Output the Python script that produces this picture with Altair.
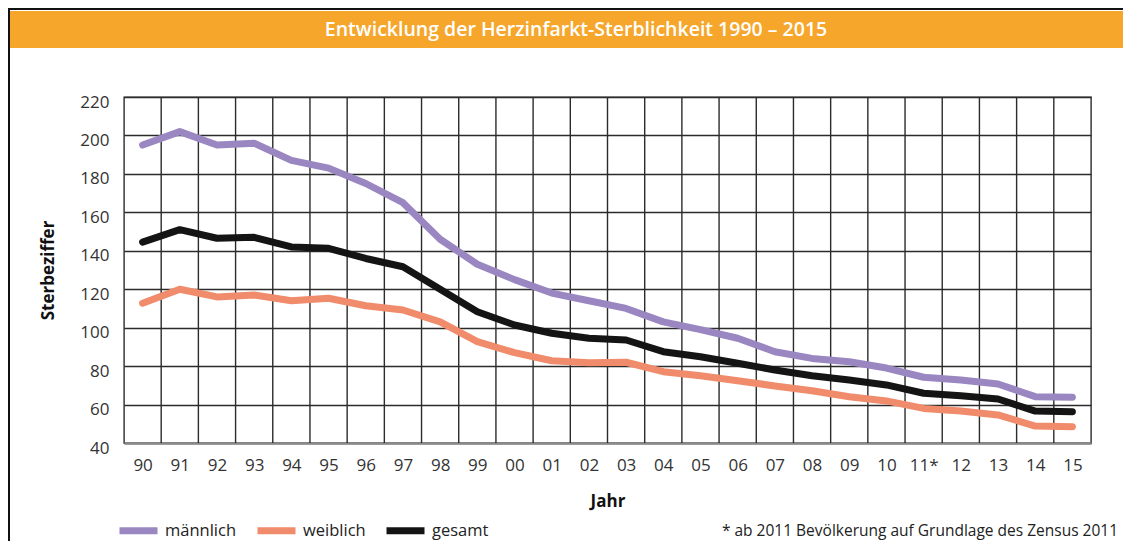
import json
import altair as alt
import pandas as pd

# ---- data ----
year_labels = ["90", "91", "92", "93", "94", "95", "96", "97", "98", "99",
               "00", "01", "02", "03", "04", "05", "06", "07", "08", "09",
               "10", "11*", "12", "13", "14", "15"]
maennlich = [195, 202, 195, 196, 187, 183, 175, 165, 146, 133,
             125, 118, 114, 110, 103, 99, 94.5, 87.5, 84, 82.3,
             79, 74.2, 72.8, 70.7, 64.1, 63.8]
weiblich = [112.7, 120, 116, 117, 114, 115.3, 111.4, 109.2, 103, 92.7,
            87, 82.8, 81.8, 82, 77.1, 75, 72.4, 69.7, 67.2, 64.1,
            61.9, 58, 56.6, 54.6, 48.8, 48.5]
gesamt = [144.5, 151, 146.5, 147, 142, 141.3, 136, 131.7, 120, 108.3,
          101.4, 97.1, 94.5, 93.6, 87.5, 84.9, 81.5, 78, 75, 72.8,
          70.2, 65.9, 64.6, 62.9, 56.6, 56.3]
series_names = ["männlich", "weiblich", "gesamt"]
series_colors = ["#9a87c1", "#f08b6b", "#141414"]
title_text = "Entwicklung der Herzinfarkt-Sterblichkeit 1990 – 2015"
footnote = "* ab 2011 Bevölkerung auf Grundlage des Zensus 2011"

rows = []
for name, vals in zip(series_names, [maennlich, weiblich, gesamt]):
    for i, v in enumerate(vals):
        rows.append({"idx": i, "Jahr": year_labels[i], "Serie": name, "wert": v})
df = pd.DataFrame(rows)

bounds = pd.DataFrame({"idx": [i + 0.5 for i in range(len(year_labels) - 1)]})
one = pd.DataFrame({"k": [0]})

FONT = "Open Sans"
W, H = 967, 346

xscale = alt.Scale(domain=[-0.5, len(year_labels) - 0.5], nice=False, zero=False)
yscale = alt.Scale(domain=[40, 220], nice=False, zero=False)

label_expr = json.dumps(year_labels) + "[round(datum.value)]"
xaxis = alt.Axis(values=list(range(len(year_labels))), labelExpr=label_expr,
                 title="Jahr", grid=False, ticks=False,
                 domainColor="#8a8a8a", domainWidth=2.5,
                 labelPadding=14, titlePadding=20)

vgrid = alt.Chart(bounds).mark_rule(color="#2b2b2b", strokeWidth=1.4).encode(
    x=alt.X("idx:Q", scale=xscale, axis=xaxis)
)

lines = alt.Chart(df).mark_line(strokeWidth=7, strokeCap="round", strokeJoin="round").encode(
    x=alt.X("idx:Q", scale=xscale, axis=xaxis),
    y=alt.Y("wert:Q", scale=yscale,
            axis=alt.Axis(values=list(range(40, 221, 20)), title="Sterbeziffer",
                          grid=True, gridColor="#2b2b2b", gridWidth=1.4,
                          ticks=False, domain=False, labelPadding=15,
                          labelOffset=5, titlePadding=22)),
    color=alt.Color("Serie:N", sort=series_names,
                    scale=alt.Scale(domain=series_names, range=series_colors),
                    legend=alt.Legend(orient="none", legendX=-8, legendY=411,
                                      direction="horizontal", title=None,
                                      symbolType="stroke", symbolSize=1444,
                                      symbolStrokeWidth=7, labelFontSize=16.5,
                                      labelFont=FONT, labelColor="#222",
                                      labelOffset=4, columnPadding=6)),
    detail="Serie:N",
)

header = alt.Chart(one).mark_rect(color="#f5a62b").encode(
    x=alt.value(-116), x2=alt.value(1010), y=alt.value(-86), y2=alt.value(-49)
)
top_line = alt.Chart(one).mark_rule(color="#111", strokeWidth=2).encode(
    x=alt.value(-116), x2=alt.value(1010), y=alt.value(-88)
)
left_line = alt.Chart(one).mark_rule(color="#111", strokeWidth=2).encode(
    x=alt.value(-115), y=alt.value(-88), y2=alt.value(460)
)
title = alt.Chart(one).mark_text(color="white", font=FONT, fontSize=19.5, fontWeight=600,
                                 align="center", baseline="middle").encode(
    x=alt.value(452), y=alt.value(-67), text=alt.value(title_text)
)
foot = alt.Chart(one).mark_text(color="#222", font=FONT, fontSize=15.5,
                                align="right", baseline="middle").encode(
    x=alt.value(994), y=alt.value(434), text=alt.value(footnote)
)

chart = alt.layer(header, top_line, left_line, title, vgrid, lines, foot).properties(
    width=W, height=H,
    autosize=alt.AutoSizeParams(type="none"),
    padding={"left": 116, "top": 89, "right": 32, "bottom": 98},
).configure_view(
    stroke="#2b2b2b", strokeWidth=1.4
).configure_axis(
    labelFont=FONT, labelFontSize=17, labelColor="#333",
    titleFont=FONT, titleFontSize=17, titleFontWeight="bold", titleColor="#111"
)

chart.save("out.html", embed_options={"renderer": "svg", "actions": False})
